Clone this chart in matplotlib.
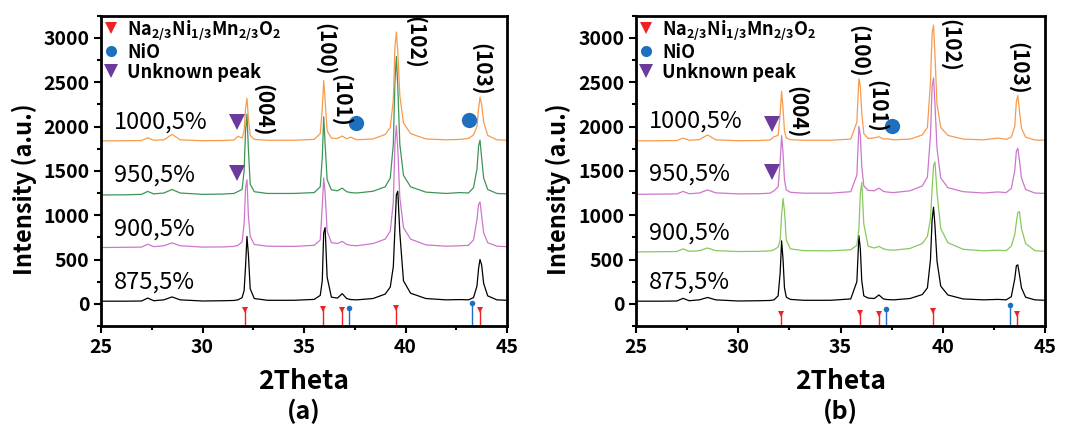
import matplotlib
matplotlib.use("Agg")
import matplotlib.pyplot as plt
from matplotlib.lines import Line2D
from matplotlib.ticker import MultipleLocator

plt.rcParams['font.family'] = ['Noto Sans CJK KR', 'DejaVu Sans']

# shared 2-theta grid for all patterns
two_theta = [25.0, 26.2, 27.0, 27.3, 27.6, 28.1, 28.5, 28.9, 30.0, 31.0,
             31.55, 31.75, 31.95, 32.05, 32.12, 32.19, 32.26, 32.35, 32.55, 33.2,
             34.5, 35.5, 35.8, 35.9, 35.97, 36.04, 36.14, 36.35, 36.65, 36.88,
             37.1, 37.3, 37.6, 38.4, 39.0, 39.25, 39.4, 39.48, 39.55, 39.62,
             39.72, 39.9, 40.25, 41.0, 42.0, 42.7, 43.1, 43.35, 43.52, 43.6,
             43.67, 43.75, 43.85, 44.05, 44.5, 45.0]

# panel (a)
a_875 = [30, 30, 32, 65, 35, 45, 78, 45, 32, 35,
         38, 45, 70, 150, 420, 760, 560, 170, 60, 40,
         40, 50, 95, 260, 800, 860, 300, 75, 65, 115,
         60, 48, 45, 60, 110, 190, 420, 850, 1230, 1270,
         800, 260, 120, 60, 45, 48, 45, 70, 200, 400,
         500, 440, 230, 90, 45, 40]
a_900 = [635, 638, 640, 672, 645, 655, 688, 655, 640, 642,
         648, 660, 700, 900, 1300, 1400, 1000, 760, 670, 650,
         648, 660, 720, 1100, 1420, 1250, 820, 690, 680, 705,
         670, 660, 655, 680, 730, 820, 1150, 1800, 2010, 1750,
         1200, 860, 730, 665, 650, 655, 660, 720, 950, 1120,
         1150, 1000, 800, 690, 650, 645]
a_950 = [1228, 1230, 1235, 1268, 1240, 1250, 1290, 1250, 1235, 1238,
         1245, 1268, 1290, 1500, 1950, 2140, 1750, 1350, 1265, 1245,
         1245, 1255, 1320, 1650, 2110, 1800, 1400, 1285, 1275, 1305,
         1265, 1255, 1250, 1270, 1320, 1420, 1800, 2500, 2790, 2450,
         1800, 1450, 1320, 1260, 1245, 1255, 1250, 1310, 1520, 1780,
         1846, 1650, 1420, 1290, 1245, 1240]
a_1000 = [1838, 1840, 1842, 1872, 1845, 1850, 1912, 1850, 1840, 1842,
          1848, 1890, 1870, 1950, 2200, 2318, 2100, 1900, 1855, 1845,
          1845, 1855, 1920, 2200, 2518, 2300, 1950, 1870, 1865, 1893,
          1862, 1880, 1850, 1860, 1910, 1990, 2300, 2900, 3066, 2850,
          2350, 2040, 1920, 1860, 1850, 1855, 1865, 1905, 2000, 2200,
          2330, 2250, 2050, 1900, 1850, 1845]

# panel (b)
b_875 = [30, 30, 32, 62, 35, 45, 72, 45, 32, 35,
         38, 45, 90, 350, 710, 500, 180, 75, 50, 40,
         40, 55, 250, 770, 620, 260, 90, 65, 60, 100,
         55, 48, 45, 60, 105, 180, 500, 950, 1090, 880,
         480, 200, 100, 55, 45, 50, 45, 80, 280, 430,
         440, 330, 180, 75, 45, 40]
b_900 = [585, 588, 590, 620, 592, 600, 630, 600, 590, 592,
         598, 610, 640, 720, 1000, 1189, 1050, 720, 620, 600,
         598, 610, 660, 850, 1250, 1370, 900, 650, 630, 648,
         620, 610, 605, 625, 680, 760, 960, 1300, 1560, 1600,
         1250, 850, 690, 615, 598, 605, 600, 650, 780, 920,
         1030, 1040, 850, 680, 600, 592]
b_950 = [1235, 1238, 1240, 1268, 1242, 1250, 1285, 1252, 1240, 1242,
         1248, 1275, 1320, 1600, 1897, 1700, 1400, 1285, 1258, 1248,
         1248, 1265, 1450, 2000, 1900, 1550, 1330, 1280, 1275, 1305,
         1268, 1260, 1255, 1275, 1330, 1430, 1900, 2450, 2548, 2250,
         1750, 1420, 1310, 1265, 1250, 1262, 1255, 1300, 1500, 1720,
         1755, 1620, 1420, 1290, 1250, 1245]
b_1000 = [1838, 1840, 1842, 1870, 1845, 1852, 1905, 1850, 1840, 1842,
          1848, 1885, 1900, 2150, 2398, 2200, 1950, 1870, 1852, 1845,
          1845, 1858, 2050, 2540, 2450, 2150, 1920, 1865, 1872, 1885,
          1858, 1862, 1850, 1858, 1905, 1990, 2500, 3050, 3143, 2800,
          2250, 1990, 1900, 1858, 1850, 1870, 1855, 1880, 2000, 2280,
          2350, 2180, 1980, 1880, 1848, 1845]

sample_labels = ["875,5%", "900,5%", "950,5%", "1000,5%"]
label_y_a = [241, 840, 1453, 2050]
label_y_b = [240, 800, 1460, 2060]

# reference lines (stems)
na_pos = [32.09, 35.94, 36.88, 39.52, 43.65]
nio_pos = [37.24, 43.28]
na_h_a = [-65, -55, -65, -45, -70]
nio_h_a = [-50, 5]
na_h_b = [-110, -100, -110, -80, -110]
nio_h_b = [-57, -10]

# peak index labels
hkl = ["(004)", "(100)", "(101)", "(102)", "(103)"]
hkl_x_a = [33.0, 36.03, 36.85, 40.45, 43.74]
hkl_y_a = [2185, 2876, 2300, 2944, 2642]
hkl_x_b = [32.86, 35.91, 36.81, 40.37, 43.67]
hkl_y_b = [2160, 2850, 2230, 2915, 2660]

# extra phase markers
unk_a = ([31.71, 31.71], [2053, 1480])
nio_mark_a = ([37.55, 43.13], [2035, 2076])
unk_b = ([31.67, 31.67], [2030, 1490])
nio_mark_b = ([37.51], [2010])

orange = "#F89B4C"
dgreen = "#3E9558"
pink = "#CC77CC"
lgreen = "#86C95F"
red = "#EE2222"
blue = "#1F6FBF"
purple = "#6A3A9C"

fig = plt.figure(figsize=(10.72, 4.25), dpi=100)
ax_a = fig.add_axes([101 / 1072, 1 - 326 / 425, 406 / 1072, 310.3 / 425])
ax_b = fig.add_axes([636 / 1072, 1 - 326 / 425, 409 / 1072, 310.3 / 425])

panels = [
    (ax_a, [a_875, a_900, a_950, a_1000], ["black", pink, dgreen, orange],
     label_y_a, na_h_a, nio_h_a, hkl_x_a, hkl_y_a, unk_a, nio_mark_a, "(a)"),
    (ax_b, [b_875, b_900, b_950, b_1000], ["black", lgreen, pink, orange],
     label_y_b, na_h_b, nio_h_b, hkl_x_b, hkl_y_b, unk_b, nio_mark_b, "(b)"),
]

heavy = "heavy"

for (ax, curves, colors, ly, na_h, nio_h, hx, hy, unk, niom, tag) in panels:
    for ys, c in zip(curves, colors):
        ax.plot(two_theta, ys, color=c, lw=0.9)
    for lab, yy in zip(sample_labels, ly):
        ax.text(25.65, yy, lab, fontsize=17, fontweight="medium",
                va="center", ha="left")

    ax.vlines(na_pos, -250, na_h, color=red, lw=1.0)
    ax.plot(na_pos, na_h, "v", color=red, ms=4, mew=0)
    ax.vlines(nio_pos, -250, nio_h, color=blue, lw=1.0)
    ax.plot(nio_pos, nio_h, "o", color=blue, ms=4, mew=0)

    ax.plot(unk[0], unk[1], "v", color=purple, ms=12, mew=0)
    ax.plot(niom[0], niom[1], "o", color=blue, ms=11, mew=0)

    for t, x, y in zip(hkl, hx, hy):
        ax.text(x, y, t, rotation=-90, fontsize=15, fontweight=heavy,
                ha="center", va="center")

    handles = [
        Line2D([], [], ls="none", marker="v", color=red, ms=8, mew=0),
        Line2D([], [], ls="none", marker="o", color=blue, ms=8, mew=0),
        Line2D([], [], ls="none", marker="v", color=purple, ms=10, mew=0),
    ]
    names = [r"Na$\mathregular{_{2/3}}$Ni$\mathregular{_{1/3}}$Mn$\mathregular{_{2/3}}$O$\mathregular{_2}$",
             "NiO", "Unknown peak"]
    ax.legend(handles, names, loc="upper left", frameon=False,
              prop={"size": 13, "weight": "bold"}, handlelength=0.8,
              handletextpad=0.5, labelspacing=0.05, borderaxespad=0.0,
              borderpad=0.15)

    ax.set_xlim(25, 45)
    ax.set_ylim(-250, 3250)
    ax.xaxis.set_major_locator(MultipleLocator(5))
    ax.xaxis.set_minor_locator(MultipleLocator(2.5))
    ax.yaxis.set_major_locator(MultipleLocator(500))
    ax.yaxis.set_minor_locator(MultipleLocator(250))
    ax.tick_params(which="both", direction="out", width=1.5, top=False, right=False)
    ax.tick_params(which="major", length=5, labelsize=14)
    ax.tick_params(which="minor", length=3)
    for lbl in ax.get_xticklabels() + ax.get_yticklabels():
        lbl.set_fontweight(heavy)
    for sp in ax.spines.values():
        sp.set_linewidth(2)

    ax.text(-0.19, 0.44, "Intensity (a.u.)", rotation=90, fontsize=17,
            fontweight=heavy, ha="center", va="center", transform=ax.transAxes)
    ax.text(0.5, -0.18, "2Theta", fontsize=19, fontweight=heavy,
            ha="center", va="center", transform=ax.transAxes)
    ax.text(0.5, -0.275, tag, fontsize=18, fontweight="bold",
            ha="center", va="center", transform=ax.transAxes)

fig.savefig("out.png", dpi=100)
